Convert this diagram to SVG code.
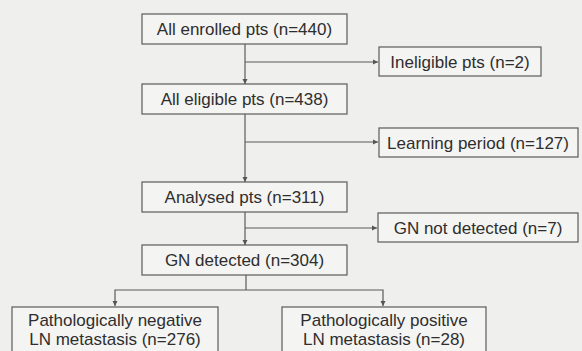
<svg xmlns="http://www.w3.org/2000/svg" width="582" height="351" viewBox="0 0 582 351">
<defs>
<marker id="arr" markerWidth="6" markerHeight="6" refX="5" refY="3" orient="auto" markerUnits="userSpaceOnUse">
<path d="M0,0.5 L5,3 L0,5.5 Z" fill="#555"/>
</marker>
<style>
.box{fill:#f4f4f2;stroke:#5a5a5a;stroke-width:1.2}
.t{font-family:"Liberation Sans",Arial,sans-serif;font-size:17px;fill:#2e2e2e;text-anchor:middle}
.c{fill:none;stroke:#5a5a5a;stroke-width:1.2}
</style>
</defs>
<rect width="582" height="351" fill="#efefed"/>
<g id="connectors">
<path class="c" d="M245,44 V84" marker-end="url(#arr)"/>
<path class="c" d="M245,62 H378" marker-end="url(#arr)"/>
<path class="c" d="M245,114 V182" marker-end="url(#arr)"/>
<path class="c" d="M245,142 H378" marker-end="url(#arr)"/>
<path class="c" d="M245,212 V245" marker-end="url(#arr)"/>
<path class="c" d="M245,228 H377" marker-end="url(#arr)"/>
<path class="c" d="M246,275 V290"/>
<path class="c" d="M246,290 H115 V306" marker-end="url(#arr)"/>
<path class="c" d="M246,290 H383 V306" marker-end="url(#arr)"/>
</g>
<g id="n1"><rect class="box" x="142" y="14" width="205" height="30"/><text class="t" x="244.5" y="35">All enrolled pts (n=440)</text></g>
<g id="n2"><rect class="box" x="379" y="47" width="162" height="29"/><text class="t" x="460" y="67.5">Ineligible pts (n=2)</text></g>
<g id="n3"><rect class="box" x="142" y="84" width="205" height="30"/><text class="t" x="244.5" y="105">All eligible pts (n=438)</text></g>
<g id="n4"><rect class="box" x="379" y="128" width="199" height="29"/><text class="t" x="478" y="148.5">Learning period (n=127)</text></g>
<g id="n5"><rect class="box" x="142" y="182" width="205" height="30"/><text class="t" x="244.5" y="203">Analysed pts (n=311)</text></g>
<g id="n6"><rect class="box" x="378" y="213" width="200" height="29"/><text class="t" x="478" y="233.5">GN not detected (n=7)</text></g>
<g id="n7"><rect class="box" x="142" y="245" width="205" height="30"/><text class="t" x="244.5" y="266">GN detected (n=304)</text></g>
<g id="n8"><rect class="box" x="12" y="307" width="206" height="50"/><text class="t" x="115" y="326">Pathologically negative</text><text class="t" x="115" y="344.5">LN metastasis (n=276)</text></g>
<g id="n9"><rect class="box" x="282" y="307" width="204" height="50"/><text class="t" x="384" y="326">Pathologically positive</text><text class="t" x="384" y="344.5">LN metastasis (n=28)</text></g>
</svg>
